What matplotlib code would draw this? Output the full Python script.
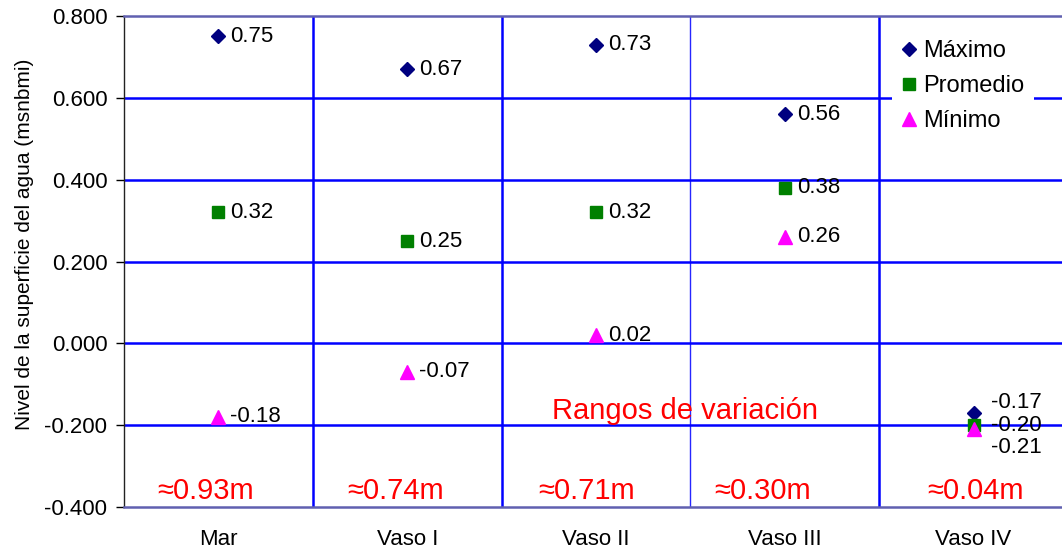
import matplotlib
matplotlib.use("Agg")
import matplotlib.pyplot as plt

plt.rcParams['font.family'] = ['Liberation Sans', 'DejaVu Sans']

categories = ["Mar", "Vaso I", "Vaso II", "Vaso III", "Vaso IV"]
maximo = [0.75, 0.67, 0.73, 0.56, -0.17]
promedio = [0.32, 0.25, 0.32, 0.38, -0.20]
minimo = [-0.18, -0.07, 0.02, 0.26, -0.21]
rangos = ["≈0.93m", "≈0.74m", "≈0.71m", "≈0.30m", "≈0.04m"]
yticks = [-0.4, -0.2, 0.0, 0.2, 0.4, 0.6, 0.8]

fig = plt.figure(figsize=(10.62, 5.52), dpi=100)
# the plot area runs slightly past the right edge of the canvas
ax = fig.add_axes([124 / 1062, 45 / 552, 944 / 1062, 491 / 552])

x = list(range(len(categories)))
ax.set_xlim(-0.5, len(categories) - 0.5)
ax.set_ylim(-0.4, 0.8)

# grid: blue lines between categories and at each y tick
for yv in yticks[1:-1]:
    ax.axhline(yv, color='#0000ff', lw=1.8, zorder=1)
for xv in range(len(categories) - 1):
    thin = (xv == 2)
    ax.axvline(xv + 0.5, color='#0000ff', lw=1.0 if thin else 1.8,
               alpha=0.85 if thin else 1.0, zorder=1)

for side in ('top', 'bottom'):
    ax.spines[side].set_color('#6060b0')
    ax.spines[side].set_linewidth(1.8)
ax.spines['right'].set_visible(False)
ax.spines['left'].set_color('#222222')
ax.spines['left'].set_linewidth(1.0)

ax.set_yticks(yticks)
ax.set_yticklabels([f"{v:.3f}" for v in yticks], fontsize=16)
ax.set_xticks(x)
ax.set_xticklabels(categories, fontsize=16)
ax.tick_params(axis='x', length=0, pad=16)
ax.tick_params(axis='y', length=6, width=1, direction='out', pad=6)
ax.set_ylabel("Nivel de la superficie del agua (msnbmi)", fontsize=15)
ax.yaxis.set_label_coords(-0.095, 0.535)

ax.plot(x, maximo, ls='none', marker='D', ms=7.5, color='#000080', label='Máximo', zorder=4)
ax.plot(x, promedio, ls='none', marker='s', ms=8.5, color='#008000', label='Promedio', zorder=4)
ax.plot(x, minimo, ls='none', marker='^', ms=9.5, color='#ff00ff', label='Mínimo', zorder=5)

# value labels to the right of each marker; the crowded last group is fanned out
last = len(categories) - 1
for i in range(len(categories)):
    for series, dy in ((maximo, -10), (promedio, 0), (minimo, 18)):
        oy = dy if i == last else 0
        ox = 17 if i == last else 12
        ax.annotate(f"{series[i]:.2f}", (x[i], series[i]), xytext=(ox, -oy),
                    textcoords='offset pixels',
                    ha='left', va='center', fontsize=16, zorder=6)

ax.text(2.47, -0.165, "Rangos de variación", color='#ff0000', fontsize=21,
        ha='center', va='center', zorder=6)
range_x = [-0.07, 0.94, 1.95, 2.88, 4.01]
for xv, txt in zip(range_x, rangos):
    ax.text(xv, -0.36, txt, color='#ff0000', fontsize=21, ha='center',
            va='center', zorder=6)

leg = ax.legend(loc='upper right', bbox_to_anchor=(0.976, 0.994), fontsize=17,
                frameon=True, framealpha=1.0, edgecolor='none', facecolor='white',
                handlelength=0.6, handletextpad=0.3, labelspacing=0.55,
                borderpad=0.4)
leg.set_zorder(7)

fig.savefig("out.png", dpi=100)
